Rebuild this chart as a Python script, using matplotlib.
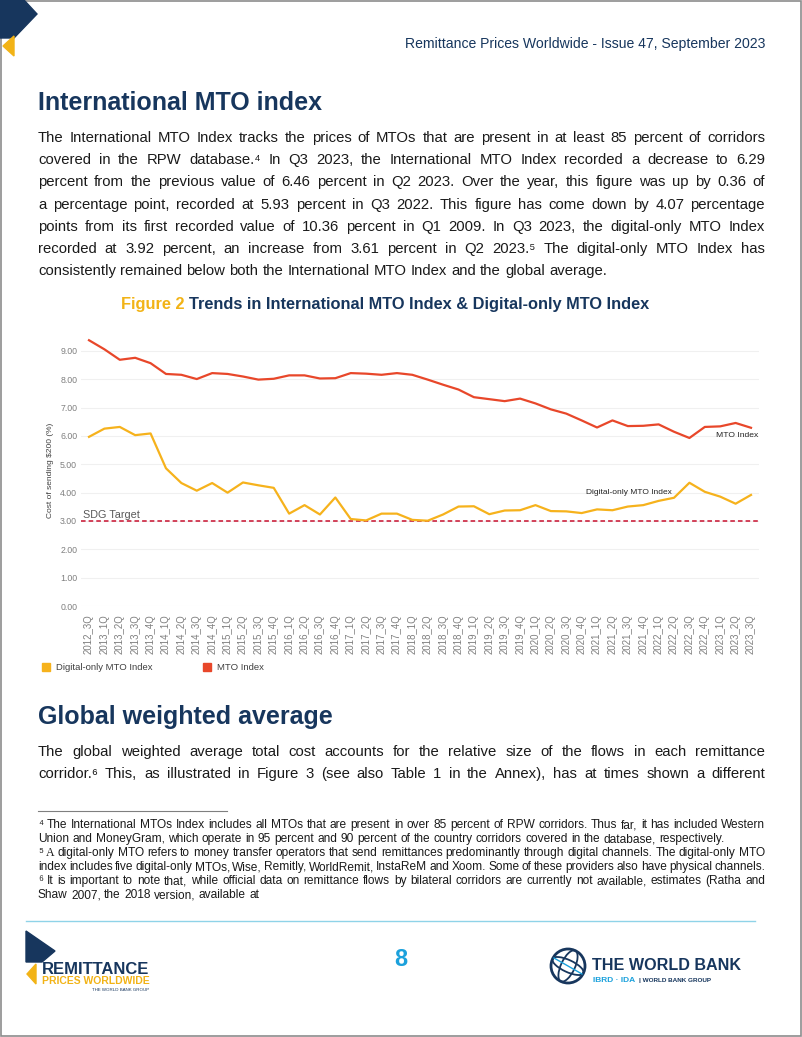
import matplotlib
matplotlib.use('Agg')
import matplotlib.pyplot as plt
from matplotlib.patches import Polygon, Rectangle, Circle, Ellipse
from matplotlib.lines import Line2D

# chart data
quarters = ['2012_3Q', '2013_1Q', '2013_2Q', '2013_3Q', '2013_4Q',
            '2014_1Q', '2014_2Q', '2014_3Q', '2014_4Q',
            '2015_1Q', '2015_2Q', '2015_3Q', '2015_4Q',
            '2016_1Q', '2016_2Q', '2016_3Q', '2016_4Q',
            '2017_1Q', '2017_2Q', '2017_3Q', '2017_4Q',
            '2018_1Q', '2018_2Q', '2018_3Q', '2018_4Q',
            '2019_1Q', '2019_2Q', '2019_3Q', '2019_4Q',
            '2020_1Q', '2020_2Q', '2020_3Q', '2020_4Q',
            '2021_1Q', '2021_2Q', '2021_3Q', '2021_4Q',
            '2022_1Q', '2022_2Q', '2022_3Q', '2022_4Q',
            '2023_1Q', '2023_2Q', '2023_3Q']
mto_index = [9.38, 9.06, 8.69, 8.76, 8.57, 8.19, 8.16, 8.01, 8.22, 8.19, 8.10,
             7.99, 8.02, 8.14, 8.14, 8.03, 8.04, 8.22, 8.20, 8.16, 8.22, 8.16,
             7.99, 7.81, 7.64, 7.37, 7.30, 7.23, 7.32, 7.15, 6.94, 6.79, 6.55,
             6.30, 6.55, 6.35, 6.36, 6.41, 6.15, 5.93, 6.32, 6.34, 6.46, 6.29]
digital_index = [5.97, 6.26, 6.32, 6.03, 6.09, 4.86, 4.34, 4.07, 4.34, 4.00, 4.36,
                 4.26, 4.17, 3.26, 3.56, 3.23, 3.83, 3.07, 3.02, 3.26, 3.26, 3.04,
                 3.01, 3.23, 3.51, 3.52, 3.24, 3.37, 3.38, 3.56, 3.35, 3.34, 3.28,
                 3.41, 3.38, 3.51, 3.56, 3.71, 3.82, 4.35, 4.03, 3.86, 3.61, 3.92]
sdg_target = 3.0
y_ticks = [0, 1, 2, 3, 4, 5, 6, 7, 8, 9]

# page text
body1 = [
    "The International MTO Index tracks the prices of MTOs that are present in at least 85 percent of corridors",
    "covered in the RPW database.\u2074 In Q3 2023, the International MTO Index recorded a decrease to 6.29",
    "percent from the previous value of 6.46 percent in Q2 2023. Over the year, this figure was up by 0.36 of",
    "a percentage point, recorded at 5.93 percent in Q3 2022. This figure has come down by 4.07 percentage",
    "points from its first recorded value of 10.36 percent in Q1 2009. In Q3 2023, the digital-only MTO Index",
    "recorded at 3.92 percent, an increase from 3.61 percent in Q2 2023.\u2075 The digital-only MTO Index has",
    "consistently remained below both the International MTO Index and the global average.",
]
body2 = [
    "The global weighted average total cost accounts for the relative size of the flows in each remittance",
    "corridor.\u2076 This, as illustrated in Figure 3 (see also Table 1 in the Annex), has at times shown a different",
]
notes = [
    ("\u2074 The International MTOs Index includes all MTOs that are present in over 85 percent of RPW corridors. Thus far, it has included Western", False),
    ("Union and MoneyGram, which operate in 95 percent and 90 percent of the country corridors covered in the database, respectively.", True),
    ("\u2075 A digital-only MTO refers to money transfer operators that send remittances predominantly through digital channels. The digital-only MTO", False),
    ("index includes five digital-only MTOs, Wise, Remitly, WorldRemit, InstaReM and Xoom. Some of these providers also have physical channels.", False),
    ("\u2076 It is important to note that, while official data on remittance flows by bilateral corridors are currently not available, estimates (Ratha and", False),
    ("Shaw 2007, the 2018 version, available at", True),
]

NAVY = '#17365d'
YELLOW = '#f2b316'
SANS = ['Liberation Sans', 'DejaVu Sans']

W, H = 802, 1037
fig = plt.figure(figsize=(W / 100, H / 100), dpi=100)
page = fig.add_axes([0, 0, 1, 1])
page.set_xlim(0, W)
page.set_ylim(H, 0)
page.axis('off')
renderer = fig.canvas.get_renderer()


def justify(line, y, size, last=False, x0=38, x1=765, color='#1a1a1a'):
    items = []
    for w in line.split(' '):
        fam = SANS
        if w == 'A' and line.startswith('\u2075'):
            fam = ['Liberation Serif', 'DejaVu Serif']
        items.append(page.text(x0, y, w, fontsize=size, family=fam, color=color,
                               va='baseline', ha='left'))
    widths = [t.get_window_extent(renderer).width for t in items]
    if last:
        gap = size * 1.389 * 0.278
    else:
        gap = (x1 - x0 - sum(widths)) / (len(items) - 1)
    x = x0
    for t, w in zip(items, widths):
        t.set_x(x)
        x += w + gap


# page frame and corner mark
page.add_patch(Rectangle((0.5, 0.5), W - 1.5, H - 1.5, fill=False, ec='#8c8c8c', lw=1.2))
page.add_patch(Polygon([(0, 0), (24, 0), (37, 14), (14, 38), (0, 38)], color=NAVY))
page.add_patch(Polygon([(14, 36), (14, 56), (3, 46)], color=YELLOW))

page.text(765, 48, "Remittance Prices Worldwide - Issue 47, September 2023", fontsize=10.1,
          family=SANS, color=NAVY, ha='right', va='baseline')

page.text(38, 110, "International MTO index", fontsize=18, family=SANS,
          weight='bold', color=NAVY, va='baseline')
for i, line in enumerate(body1):
    justify(line, 142 + 22.2 * i, 10.7, last=(i == len(body1) - 1))

# figure caption
cap1 = page.text(0, 309, "Figure 2 ", fontsize=11.8, family=SANS, weight='bold',
                 color=YELLOW, va='baseline')
cap2 = page.text(0, 309, "Trends in International MTO Index & Digital-only MTO Index", fontsize=11.8,
                 family=SANS, weight='bold', color=NAVY, va='baseline')
w1 = cap1.get_window_extent(renderer).width
w2 = cap2.get_window_extent(renderer).width
cap1.set_x(385 - (w1 + w2) / 2)
cap2.set_x(385 - (w1 + w2) / 2 + w1)

# chart
ax = fig.add_axes([81.3 / W, 1 - 606 / H, 677.4 / W, 272 / H])
x = list(range(len(quarters)))
ax.plot(x, mto_index, color='#e8472a', lw=1.6, label='MTO Index', zorder=3)
ax.plot(x, digital_index, color='#f6b21c', lw=1.6, label='Digital-only MTO Index', zorder=3)
ax.axhline(sdg_target, color='#c8102e', lw=1.1, ls=(0, (3, 2)), zorder=2)
ax.set_xlim(-0.5, len(quarters) - 0.5)
ax.set_ylim(0, 9.6)
ax.set_yticks(y_ticks)
ax.set_yticklabels([f'{v:.2f}' for v in y_ticks])
ax.set_xticks(x)
ax.set_xticklabels(quarters, rotation=90)
ax.tick_params(length=0, labelsize=6.3, labelcolor='#7f7f7f', pad=3)
ax.tick_params(axis='x', pad=6, labelsize=6.9)
for lab in ax.get_xticklabels() + ax.get_yticklabels():
    lab.set_family(SANS)
ax.grid(axis='y', color='#f0f0f0', lw=0.8)
ax.set_axisbelow(True)
for s in ax.spines.values():
    s.set_visible(False)
ax.set_ylabel('Cost of sending $200 (%)', fontsize=6, color='#404040', family=SANS, labelpad=4)
ax.text(0.002, 3.04, 'SDG Target', fontsize=7.8, color='#595959', family=SANS, ha='left', va='bottom',
        transform=ax.get_yaxis_transform())
ax.text(40.7, 6.0, 'MTO Index', fontsize=6.1, color='#262626', family=SANS, va='center')
ax.text(32.3, 4.02, 'Digital-only MTO Index', fontsize=6.0, color='#262626', family=SANS, va='center')

handles = [Line2D([], [], marker='s', ls='none', color='#f6b21c', markersize=6),
           Line2D([], [], marker='s', ls='none', color='#e8472a', markersize=6)]
fig.legend(handles, ['Digital-only MTO Index', 'MTO Index'], loc='center left',
           bbox_to_anchor=(28 / W, 1 - 668 / H), ncol=2, frameon=False, handletextpad=0.1,
           columnspacing=4.7, prop={'family': SANS, 'size': 6.8}, labelcolor='#404040')

# second section
page.text(38, 724, "Global weighted average", fontsize=18, family=SANS,
          weight='bold', color=NAVY, va='baseline')
for i, line in enumerate(body2):
    justify(line, 756 + 22.2 * i, 10.7)

page.plot([38, 227], [811, 811], color='#7f7f7f', lw=0.8)
for i, (line, last) in enumerate(notes):
    justify(line, 828 + 14 * i, 8.6, last=last)

# footer
page.plot([26, 755], [921, 921], color='#8fd3e8', lw=1)
page.text(401, 966, "8", fontsize=17, weight='bold', family=SANS, color='#1ba1dc',
          ha='center', va='baseline')

page.add_patch(Polygon([(26, 931), (55, 951), (42, 962), (26, 962)], color=NAVY))
page.add_patch(Polygon([(36, 964), (36, 984), (27, 974)], color=YELLOW))
page.text(42, 974, "REMITTANCE", fontsize=12, weight='bold', family=SANS, color=NAVY,
          va='baseline')
page.text(42, 984, "PRICES WORLDWIDE", fontsize=7.5, weight='bold', family=SANS, color=YELLOW,
          va='baseline')
page.text(149, 991, "THE WORLD BANK GROUP", fontsize=3.2, family=SANS, color=NAVY,
          ha='right', va='baseline')

page.add_patch(Circle((568, 966), 17, fill=False, ec=NAVY, lw=2))
page.add_patch(Ellipse((568, 966), 14, 34, angle=25, fill=False, ec=NAVY, lw=1.3))
page.add_patch(Ellipse((568, 966), 34, 12, angle=25, fill=False, ec=NAVY, lw=1.3))
page.plot([554, 582], [958, 974], color='#1ba1dc', lw=1)
page.text(592, 970, "THE WORLD BANK", fontsize=11.6, weight='bold', family=SANS, color=NAVY,
          va='baseline')
ibrd = page.text(593, 982, "IBRD \u00b7 IDA ", fontsize=6, weight='bold', family=SANS, color='#1ba1dc',
                 va='baseline')
wb = page.text(593, 982, "| WORLD BANK GROUP", fontsize=4.6, weight='bold', family=SANS, color=NAVY,
               va='baseline')
wb.set_x(593 + ibrd.get_window_extent(renderer).width + 2)

fig.savefig('out.png', dpi=100)
